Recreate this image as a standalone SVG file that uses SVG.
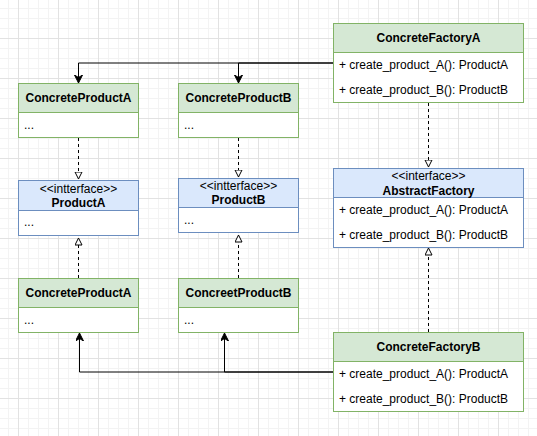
<svg xmlns="http://www.w3.org/2000/svg" width="537" height="436" viewBox="0 0 537 436">
<defs>
<pattern id="minor" width="10" height="10" patternUnits="userSpaceOnUse" x="8" y="8">
<path d="M0 0.5H10M0.5 0V10" fill="none" stroke="#f3f3f3" stroke-width="1"/>
</pattern>
<pattern id="major" width="40" height="40" patternUnits="userSpaceOnUse" x="18" y="38">
<path d="M0 0.5H40M0.5 0V40" fill="none" stroke="#e2e2e2" stroke-width="1"/>
</pattern>
<marker id="filled" markerUnits="userSpaceOnUse" markerWidth="10" markerHeight="10" refX="8" refY="4" orient="auto" viewBox="0 0 10 10">
<path d="M0,0 L8,4 L0,8 L2.5,4 Z" fill="#000" stroke="#000" stroke-width="1"/>
</marker>
<marker id="hollow" markerUnits="userSpaceOnUse" markerWidth="10" markerHeight="10" refX="7.5" refY="4" orient="auto" viewBox="0 0 10 10">
<path d="M0.5,0.5 L7.5,4 L0.5,7.5 Z" fill="#fff" stroke="#000" stroke-width="1"/>
</marker>
</defs>
<style>
.g{fill:#d5e8d4;stroke:#82b366;stroke-width:1}
.b{fill:#dae8fc;stroke:#6c8ebf;stroke-width:1}
.wg{fill:#fff;stroke:#82b366;stroke-width:1}
.wb{fill:#fff;stroke:#6c8ebf;stroke-width:1}
text{font-family:"Liberation Sans",Arial,Helvetica,sans-serif;font-size:12px;fill:#000}
.t{font-weight:bold;text-anchor:middle}
.c{text-anchor:middle}
.solid{fill:none;stroke:#000;stroke-width:1;marker-end:url(#filled)}
.dash{fill:none;stroke:#000;stroke-width:1;stroke-dasharray:3 3;marker-end:url(#hollow)}
</style>
<rect width="537" height="436" fill="#fff"/>
<rect width="537" height="436" fill="url(#minor)"/>
<rect width="537" height="436" fill="url(#major)"/>

<g id="connectors">
<path class="solid" d="M333 63H78.5V83"/>
<path class="solid" d="M333 63H238.5V83"/>
<path class="dash" d="M78.5 138V179"/>
<path class="dash" d="M238.5 138V177"/>
<path class="dash" d="M428.5 103V167"/>
<path class="dash" d="M428.5 332V248"/>
<path class="dash" d="M78.5 278V238"/>
<path class="dash" d="M238.5 278V235"/>
<path class="solid" d="M333 372H79.5V333"/>
<path class="solid" d="M333 372H224.5V333"/>
</g>

<g id="ConcreteProductA_top">
<rect class="wg" x="18.5" y="83.5" width="120" height="54"/>
<rect class="g" x="18.5" y="83.5" width="120" height="29"/>
<text class="t" x="78.5" y="102">ConcreteProductA</text>
<text x="24" y="129">...</text>
</g>

<g id="ConcreteProductB_top">
<rect class="wg" x="178.5" y="83.5" width="120" height="54"/>
<rect class="g" x="178.5" y="83.5" width="120" height="29"/>
<text class="t" x="238.5" y="102">ConcreteProductB</text>
<text x="184" y="129">...</text>
</g>

<g id="ProductA">
<rect class="wb" x="18.5" y="180.5" width="120" height="55"/>
<rect class="b" x="18.5" y="180.5" width="120" height="30"/>
<text class="c" x="78.5" y="192.5">&lt;&lt;intterface&gt;&gt;</text>
<text class="t" x="78.5" y="206.5">ProductA</text>
<text x="24" y="226">...</text>
</g>

<g id="ProductB">
<rect class="wb" x="178.5" y="178.5" width="120" height="54"/>
<rect class="b" x="178.5" y="178.5" width="120" height="29"/>
<text class="c" x="238.5" y="190">&lt;&lt;intterface&gt;&gt;</text>
<text class="t" x="238.5" y="204">ProductB</text>
<text x="184" y="224">...</text>
</g>

<g id="ConcreteProductA_bottom">
<rect class="wg" x="18.5" y="278.5" width="120" height="54"/>
<rect class="g" x="18.5" y="278.5" width="120" height="29"/>
<text class="t" x="78.5" y="296.5">ConcreteProductA</text>
<text x="24" y="324">...</text>
</g>

<g id="ConcreetProductB">
<rect class="wg" x="178.5" y="278.5" width="120" height="54"/>
<rect class="g" x="178.5" y="278.5" width="120" height="29"/>
<text class="t" x="238.5" y="296.5">ConcreetProductB</text>
<text x="184" y="324">...</text>
</g>

<g id="ConcreteFactoryA">
<rect class="wg" x="333.5" y="23.5" width="190" height="79"/>
<rect class="g" x="333.5" y="23.5" width="190" height="29"/>
<text class="t" x="428.5" y="42">ConcreteFactoryA</text>
<text x="339" y="69">+ create_product_A(): ProductA</text>
<text x="339" y="94">+ create_product_B(): ProductB</text>
</g>

<g id="AbstractFactory">
<rect class="wb" x="333.5" y="168.5" width="190" height="79"/>
<rect class="b" x="333.5" y="168.5" width="190" height="29"/>
<text class="c" x="428.5" y="180">&lt;&lt;interface&gt;&gt;</text>
<text class="t" x="428.5" y="195">AbstractFactory</text>
<text x="339" y="214">+ create_product_A(): ProductA</text>
<text x="339" y="239">+ create_product_B(): ProductB</text>
</g>

<g id="ConcreteFactoryB">
<rect class="wg" x="333.5" y="332.5" width="190" height="79"/>
<rect class="g" x="333.5" y="332.5" width="190" height="29"/>
<text class="t" x="428.5" y="351">ConcreteFactoryB</text>
<text x="339" y="378">+ create_product_A(): ProductA</text>
<text x="339" y="403">+ create_product_B(): ProductB</text>
</g>
</svg>
